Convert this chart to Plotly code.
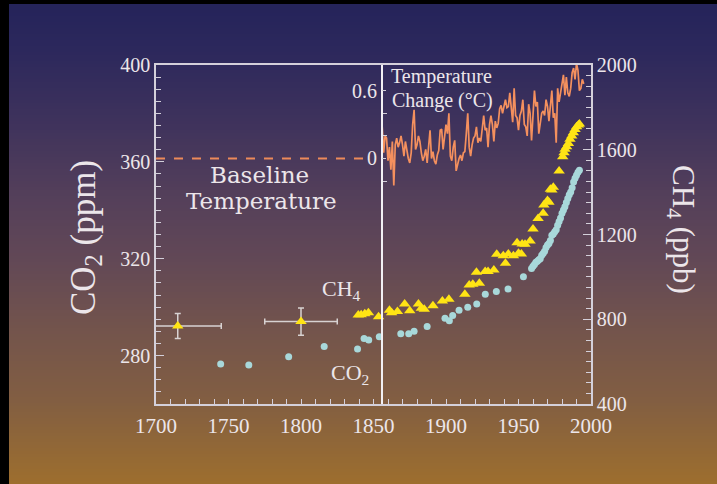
import plotly.graph_objects as go

# ---------------- data ----------------
co2_year = [1744.6, 1764.0, 1791.5, 1816.0, 1839.0, 1843.5, 1846.7, 1854.0, 1868.8, 1874.3,
            1878.0, 1887.0, 1899.3, 1902.3, 1904.6, 1909.0, 1915.0, 1921.2, 1927.1, 1934.7,
            1942.8, 1953.4,
            1959, 1960, 1961, 1962, 1963, 1964, 1965, 1966, 1967, 1968, 1969, 1970, 1971, 1972,
            1973, 1974, 1975, 1976, 1977, 1978, 1979, 1980, 1981, 1982, 1983, 1984, 1985, 1986,
            1987, 1988, 1989, 1990, 1991, 1992]
co2_ppm = [276.5, 276.1, 279.5, 283.7, 282.7, 287.0, 286.4, 287.8, 289.0, 289.0,
           290.0, 292.0, 295.4, 294.4, 296.5, 298.7, 300.0, 301.3, 305.3, 306.5,
           307.5, 312.6,
           316.0, 316.9, 317.6, 318.5, 319.0, 319.6, 320.0, 321.4, 322.2, 323.1, 324.6, 325.7, 326.3, 327.5,
           329.7, 330.2, 331.1, 332.0, 333.8, 335.4, 336.8, 338.8, 340.1, 341.5, 343.2, 344.9, 346.4, 347.6,
           349.3, 351.7, 353.2, 354.5, 355.7, 356.5]

ch4_year = [1839.5, 1841.5, 1844.0, 1846.5, 1853.5, 1861.0, 1862.5, 1866.5, 1871.5, 1875.0,
            1881.0, 1883.0, 1885.0, 1891.0, 1897.5, 1902.0, 1913.0, 1916.0, 1918.5, 1923.0,
            1921.0, 1927.0, 1929.0, 1933.0, 1935.0, 1939.5, 1941.0, 1943.0, 1946.5, 1950.0,
            1952.0, 1949.0, 1952.5, 1954.5, 1958.0, 1960.0, 1963.5, 1967.0, 1967.5, 1970.0,
            1971.0, 1972.0, 1973.0, 1974.0, 1978.0, 1980.5, 1981.4, 1982.1, 1983.2, 1984.4,
            1985.5, 1986.7, 1987.8, 1989.0, 1990.1, 1991.3, 1992.0]
ch4_ppb = [820, 821, 826, 831, 812, 842, 831, 836, 872, 840,
           872, 852, 847, 864, 886, 894, 918, 962, 965, 970,
           1022, 1025, 1025, 1033, 1107, 1100, 1064, 1108, 1100, 1111,
           1108, 1161, 1155, 1154, 1169, 1226, 1276, 1300, 1339, 1360,
           1352, 1413, 1410, 1423, 1500, 1567, 1586, 1602, 1614, 1630,
           1649, 1665, 1680, 1696, 1709, 1717, 1722]

ch4_err_year = [1715, 1800]
ch4_err_ppb = [768, 789]
ch4_err_dx = [30, 25]
ch4_err_dy = [59, 64]

temp_year = list(range(1856, 1996))
temp_c = [0.28, 0.05, 0.20, 0.18, -0.02, 0.10, -0.10, 0.15, -0.24, 0.12,
          0.18, 0.10, 0.14, 0.20, 0.12, 0.02, 0.15, 0.06, 0.00, -0.04,
          0.05, 0.30, 0.43, 0.08, 0.12, 0.20, 0.15, 0.05, -0.02, 0.02,
          0.08, -0.04, 0.10, 0.25, 0.00, 0.06, -0.02, -0.05, 0.03, 0.07,
          0.25, 0.26, 0.08, 0.18, 0.30, 0.22, 0.40, 0.02, -0.02, 0.10,
          0.16, -0.11, -0.05, 0.00, 0.03, -0.02, 0.05, 0.06, 0.22, 0.40,
          0.10, 0.02, 0.12, 0.18, 0.20, 0.28, 0.14, 0.18, 0.15, 0.26,
          0.38, 0.25, 0.27, 0.10, 0.30, 0.38, 0.30, 0.15, 0.33, 0.27,
          0.31, 0.44, 0.47, 0.40, 0.48, 0.52, 0.45, 0.46, 0.58, 0.46,
          0.32, 0.62, 0.38, 0.36, 0.25, 0.38, 0.42, 0.52, 0.30, 0.28,
          0.20, 0.48, 0.40, 0.16, 0.42, 0.60, 0.46, 0.50, 0.22, 0.32,
          0.40, 0.42, 0.38, 0.52, 0.46, 0.33, 0.45, 0.60, 0.36, 0.40,
          0.14, 0.62, 0.50, 0.58, 0.66, 0.74, 0.56, 0.72, 0.58, 0.55,
          0.62, 0.76, 0.80, 0.70, 0.84, 0.78, 0.60, 0.62, 0.70, 0.66]

baseline_year = [1700, 1845]
baseline_c = [0, 0]

x_ticks = [1700, 1750, 1800, 1850, 1900, 1950, 2000]
temp_label_ticks = [0, 0.6]
temp_extra_ticks = [-0.2, 0.2, 0.4]

# ---------------- layout geometry ----------------
W, H = 717, 484
L, R, T, B = 156, 591, 65, 404


def px(x):
    return (x - L) / (R - L)


def py(y):
    return (B - y) / (B - T)


SERIF = "Liberation Serif, Times New Roman, serif"
TXT = "#ECE6EA"
AX = "#D4D0DA"
TEMP_RANGE = [-2.173, 0.827]
TEMP_POS = px(381.7)

fig = go.Figure()

fig.add_trace(go.Scatter(x=baseline_year, y=baseline_c, yaxis="y3", mode="lines",
                         line=dict(color="#EC8A5A", width=2, dash="9px,9px"),
                         hoverinfo="skip", showlegend=False))
fig.add_trace(go.Scatter(x=temp_year, y=temp_c, yaxis="y3", mode="lines",
                         line=dict(color="#F4905E", width=1.7),
                         showlegend=False))
fig.add_trace(go.Scatter(x=co2_year, y=co2_ppm, yaxis="y", mode="markers",
                         marker=dict(symbol="circle", size=7, color="#A8D8DA"),
                         showlegend=False))
fig.add_trace(go.Scatter(x=ch4_year, y=ch4_ppb, yaxis="y2", mode="markers",
                         marker=dict(symbol="triangle-up", size=10, color="#FFE414"),
                         showlegend=False))
fig.add_trace(go.Scatter(x=ch4_err_year, y=ch4_err_ppb, yaxis="y2", mode="markers",
                         marker=dict(symbol="triangle-up", size=10, color="#FFE414"),
                         error_x=dict(type="data", array=ch4_err_dx, color="#D8D2D2",
                                      thickness=1.5, width=3),
                         error_y=dict(type="data", array=ch4_err_dy, color="#D8D2D2",
                                      thickness=1.5, width=3),
                         showlegend=False))
# invisible trace so the extra tick axis is drawn
fig.add_trace(go.Scatter(x=[None], y=[None], yaxis="y4", mode="markers",
                         hoverinfo="skip", showlegend=False))

# background gradient (style only)
stops = [(0, (36, 35, 90)), (50, (44, 40, 92)), (120, (62, 50, 92)), (200, (85, 64, 90)),
         (260, (98, 72, 86)), (330, (115, 84, 76)), (400, (130, 94, 66)),
         (450, (146, 104, 54)), (484, (158, 110, 46))]


def col_at(y):
    for (y0, c0), (y1, c1) in zip(stops[:-1], stops[1:]):
        if y0 <= y <= y1:
            t = (y - y0) / (y1 - y0)
            return "rgb(%d,%d,%d)" % tuple(round(a + (b - a) * t) for a, b in zip(c0, c1))
    return "rgb(%d,%d,%d)" % stops[-1][1]


shapes = []
step = 3
for y in range(4, H, step):
    shapes.append(dict(type="rect", xref="paper", yref="paper", layer="below",
                       x0=px(9), x1=px(W + 2), y0=py(y), y1=py(min(y + step + 0.6, H + 2)),
                       line=dict(width=0), fillcolor=col_at(y + step / 2)))

annotations = [
    dict(text="Baseline", x=px(259), y=py(175), font=dict(family="DejaVu Serif", size=23, color=TXT)),
    dict(text="Temperature", x=px(261), y=py(201), font=dict(family="DejaVu Serif", size=23, color=TXT)),
    dict(text="Temperature", x=px(389), y=py(76), xanchor="left",
         font=dict(family=SERIF, size=20, color=TXT)),
    dict(text="Change (°C)", x=px(390), y=py(100), xanchor="left",
         font=dict(family=SERIF, size=20, color=TXT)),
    dict(text="CH<sub>4</sub>", x=px(320), y=py(290), xanchor="left",
         font=dict(family=SERIF, size=22, color=TXT)),
    dict(text="CO<sub>2</sub>", x=px(329), y=py(374), xanchor="left",
         font=dict(family=SERIF, size=22, color=TXT)),
    dict(text="CO<sub>2</sub> (ppm)", x=px(85), y=py(238), textangle=-90,
         font=dict(family=SERIF, size=35, color=TXT)),
    dict(text="CH<sub>4</sub> (ppb)", x=px(681), y=py(229), textangle=90,
         font=dict(family=SERIF, size=31, color=TXT)),
]
for a in annotations:
    a.setdefault("xanchor", "center")
    a.setdefault("yanchor", "middle")
    a.update(xref="paper", yref="paper", showarrow=False)

tickfont = dict(family=SERIF, size=20, color=TXT)

fig.update_layout(
    width=W, height=H, autosize=False,
    margin=dict(l=L, r=W - R, t=T, b=H - B, pad=0),
    paper_bgcolor="black", plot_bgcolor="rgba(0,0,0,0)",
    showlegend=False, shapes=shapes, annotations=annotations,
    xaxis=dict(range=[1700, 2000], tickmode="array", tickvals=x_ticks,
               ticks="inside", ticklen=5, tickcolor=AX, tickwidth=1.2,
               minor=dict(ticks="inside", tick0=1700, dtick=10, ticklen=5, tickcolor=AX),
               showline=True, linecolor=AX, linewidth=1.5, mirror=True,
               showgrid=False, zeroline=False,
               tickfont=dict(family=SERIF, size=21, color=TXT), ticklabelstandoff=2),
    yaxis=dict(range=[260, 400], tickmode="linear", tick0=280, dtick=40,
               ticks="inside", ticklen=8, tickcolor=AX, tickwidth=1.2,
               minor=dict(ticks="inside", tick0=260, dtick=5, ticklen=5, tickcolor=AX),
               showline=True, linecolor=AX, linewidth=1.5,
               showgrid=False, zeroline=False, tickfont=tickfont),
    yaxis2=dict(range=[400, 2000], overlaying="y", side="right", anchor="x",
                tickmode="linear", tick0=400, dtick=400,
                ticks="inside", ticklen=8, tickcolor=AX, tickwidth=1.2,
                minor=dict(ticks="inside", tick0=400, dtick=50, ticklen=5, tickcolor=AX),
                showline=True, linecolor=AX, linewidth=1.5,
                showgrid=False, zeroline=False, tickfont=tickfont),
    yaxis3=dict(range=TEMP_RANGE, overlaying="y", anchor="free", position=TEMP_POS,
                side="left", tickmode="array", tickvals=temp_label_ticks,
                ticks="inside", ticklen=4, tickcolor=AX, tickwidth=1.2,
                showline=True, linecolor="#F2F0F4", linewidth=1.5,
                showgrid=False, zeroline=False, tickfont=tickfont),
    yaxis4=dict(range=TEMP_RANGE, overlaying="y", anchor="free", position=TEMP_POS,
                side="left", tickmode="array", tickvals=temp_extra_ticks,
                ticks="inside", ticklen=4, tickcolor=AX, tickwidth=1.2,
                showticklabels=False, showline=False,
                showgrid=False, zeroline=False),
)

fig.write_html("out.html")
